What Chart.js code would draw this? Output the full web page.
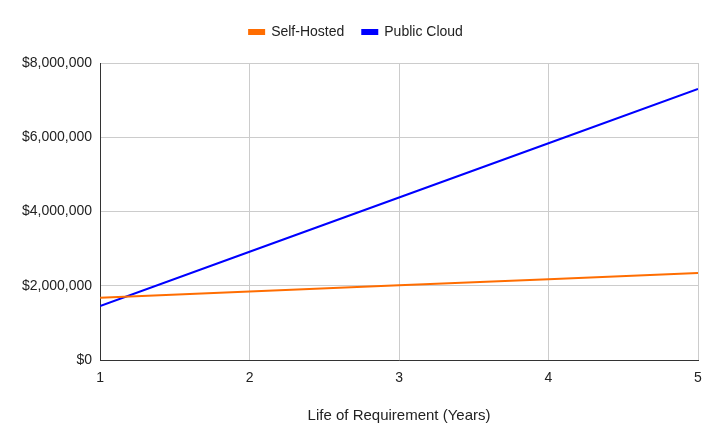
<!DOCTYPE html>
<html>
<head>
<meta charset="utf-8">
<script src="https://cdn.jsdelivr.net/npm/chart.js@4/dist/chart.umd.min.js"></script>
<style>
  html, body { margin: 0; padding: 0; background: #fff; }
  #wrap { width: 720px; height: 445px; position: relative; }
</style>
</head>
<body>
<div id="wrap"><canvas id="chart"></canvas></div>
<script>
// --- Data ---
const years       = [1, 2, 3, 4, 5];
const selfHosted  = [1680000, 1850000, 2020000, 2180000, 2350000];
const publicCloud = [1460000, 2920000, 4380000, 5840000, 7300000];
const yTicks      = [0, 2000000, 4000000, 6000000, 8000000];

const toPoints = vals => years.map((x, i) => ({ x, y: vals[i] }));
const fmtMoney = v => '$' + Number(v).toLocaleString('en-US');

Chart.defaults.font.family = '"Liberation Sans", Arial, sans-serif';
Chart.defaults.color = '#222';

// extra room between legend and plot area
const legendGap = {
  id: 'legendGap',
  beforeInit(chart) {
    const fit = chart.legend.fit;
    chart.legend.fit = function () {
      fit.bind(chart.legend)();
      this.height += 14;
    };
  }
};

new Chart(document.getElementById('chart'), {
  type: 'line',
  data: {
    datasets: [
      {
        label: 'Self-Hosted',
        data: toPoints(selfHosted),
        borderColor: '#ff6d01',
        backgroundColor: '#ff6d01',
        borderWidth: 2,
        pointRadius: 0,
        tension: 0,
      },
      {
        label: 'Public Cloud',
        data: toPoints(publicCloud),
        borderColor: '#0000ff',
        backgroundColor: '#0000ff',
        borderWidth: 2,
        pointRadius: 0,
        tension: 0,
      }
    ]
  },
  options: {
    responsive: true,
    maintainAspectRatio: false,
    animation: false,
    layout: { padding: { left: 14, right: 22, top: 7, bottom: 16 } },
    plugins: {
      legend: {
        position: 'top',
        labels: { boxWidth: 15, boxHeight: 4, font: { size: 14 }, padding: 18 }
      },
      tooltip: { enabled: false }
    },
    scales: {
      x: {
        type: 'linear',
        min: 1, max: 5,
        ticks: { stepSize: 1, font: { size: 14 }, color: '#222', padding: 10 },
        grid: { color: '#cccccc', drawTicks: false },
        border: { color: '#333', width: 1 },
        title: { display: true, text: 'Life of Requirement (Years)', font: { size: 15 }, padding: { top: 10 } }
      },
      y: {
        min: 0, max: 8000000,
        afterBuildTicks: axis => { axis.ticks = yTicks.map(v => ({ value: v })); },
        ticks: { callback: v => fmtMoney(v), font: { size: 14 }, color: '#222', padding: 8 },
        grid: { color: '#cccccc', drawTicks: false },
        border: { color: '#333', width: 1 }
      }
    }
  },
  plugins: [legendGap]
});
</script>
</body>
</html>
